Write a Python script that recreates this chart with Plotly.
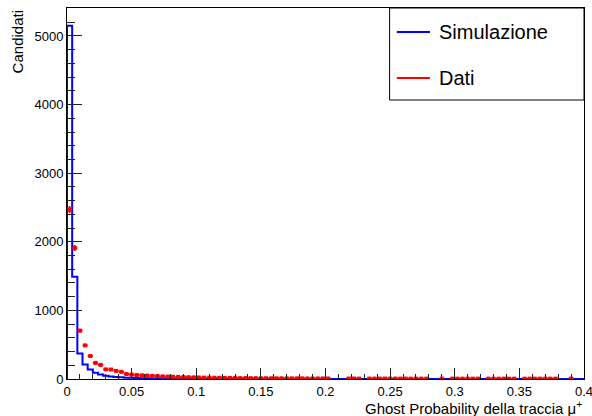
import numpy as np
import plotly.graph_objects as go

# Histogram binning: 100 bins in [0, 0.4]
x_min, x_max, n_bins = 0.0, 0.4, 100

simulazione = [
    5150, 1490, 372, 212, 140, 92, 64, 48, 38, 30,
    24, 20, 17, 14, 12, 10, 9, 8, 7, 6,
    6, 5, 5, 4, 4, 4, 3, 3, 3, 3,
    3, 2, 2, 2, 2, 2, 2, 2, 2, 2,
    2, 2, 1, 1, 1, 1, 1, 1, 1, 1,
    1, 1, 1, 1, 1, 1, 1, 1, 1, 1,
    1, 1, 1, 1, 1, 1, 1, 1, 1, 1,
    1, 1, 1, 1, 1, 1, 1, 1, 1, 1,
    1, 1, 1, 1, 1, 1, 1, 1, 1, 1,
    1, 1, 1, 1, 1, 1, 1, 1, 1, 1,
]

dati = [
    2470, 1910, 705, 490, 335, 235, 205, 140, 138, 118,
    104, 72, 64, 58, 54, 50, 46, 42, 38, 35,
    32, 30, 28, 26, 24, 22, 20, 19, 18, 17,
    16, 15, 14, 13, 13, 12, 12, 11, 11, 10,
    10, 10, 9, 9, 9, 9, 8, 8, 8, 8,
    7, 0, 0, 0, 7, 7, 6, 0, 6, 6,
    6, 6, 6, 6, 6, 6, 5, 5, 5, 5,
    0, 0, 5, 0, 5, 5, 5, 5, 5, 5,
    0, 5, 5, 5, 5, 5, 5, 0, 5, 5,
    5, 5, 5, 5, 5, 0, 0, 5, 0, 0,
]

y_ticks = [0, 1000, 2000, 3000, 4000, 5000]
x_ticks = [0, 0.05, 0.1, 0.15, 0.2, 0.25, 0.3, 0.35, 0.4]
x_tick_labels = ["0", "0.05", "0.1", "0.15", "0.2", "0.25", "0.3", "0.35", "0.4"]

edges = np.linspace(x_min, x_max, n_bins + 1)
centers = 0.5 * (edges[:-1] + edges[1:])
half_w = 0.5 * (edges[1] - edges[0])

# step outline for simulation
step_x = [edges[0]] + list(edges)
step_y = [0] + list(simulazione) + [simulazione[-1]]

dati_arr = np.array(dati, dtype=float)
mask = dati_arr > 0
dx = centers[mask]
dy = dati_arr[mask]

fig = go.Figure()
fig.add_trace(go.Scatter(
    x=step_x, y=step_y, mode="lines", line=dict(color="#0000ff", width=2, shape="hv"),
    showlegend=False, hoverinfo="skip"))
fig.add_trace(go.Scatter(
    x=dx, y=dy, mode="markers",
    marker=dict(color="#ff0000", size=4, symbol="square"),
    error_y=dict(type="data", array=np.sqrt(dy), color="#ff0000", thickness=2, width=0),
    error_x=dict(type="data", array=np.full(dx.shape, half_w), color="#ff0000", thickness=2, width=0),
    showlegend=False))

ymax = max(simulazione) * 1.05

font_family = "Liberation Sans, Arial, Helvetica, sans-serif"
fig.update_layout(
    width=592, height=416,
    margin=dict(l=67, r=8, t=8, b=37, autoexpand=False),
    paper_bgcolor="white", plot_bgcolor="white",
    font=dict(family=font_family, color="black", size=13),
    showlegend=False,
    xaxis=dict(range=[x_min, x_max], showgrid=False, zeroline=False, automargin=False,
               showline=True, mirror=True, linecolor="black", linewidth=1,
               ticks="inside", ticklen=11, tickcolor="#222", tickwidth=1,
               tickvals=x_ticks, ticktext=x_tick_labels, ticklabeloverflow="allow",
               tickfont=dict(size=13, family=font_family),
               minor=dict(ticks="inside", ticklen=5.5, dtick=0.01, tick0=0, tickcolor="#222")),
    yaxis=dict(range=[0, ymax], showgrid=False, zeroline=False, automargin=False,
               showline=True, mirror=True, linecolor="black", linewidth=1,
               ticks="inside", ticklen=15, tickcolor="#222", tickwidth=1,
               tickvals=y_ticks, ticktext=[str(v) for v in y_ticks], ticklabeloverflow="allow",
               tickfont=dict(size=13, family=font_family),
               minor=dict(ticks="inside", ticklen=7.5, dtick=200, tick0=0, tickcolor="#222")),
)

# axis titles
fig.add_annotation(text="Ghost Probability della traccia μ<sup>+</sup>", xref="paper", yref="paper",
                   x=1, y=-0.078, xanchor="right", yanchor="middle", showarrow=False,
                   font=dict(size=15, family=font_family))
fig.add_annotation(text="Candidati", xref="paper", yref="paper", textangle=-90,
                   x=-0.095, y=1.0, xanchor="center", yanchor="top", showarrow=False,
                   font=dict(size=15, family=font_family))

# legend box
fig.add_shape(type="rect", xref="paper", yref="paper", x0=0.624, x1=1.0, y0=0.752, y1=1.0,
              line=dict(color="black", width=1), fillcolor="white", layer="above")
fig.add_shape(type="line", xref="paper", yref="paper", x0=0.638, x1=0.702, y0=0.935, y1=0.935,
              line=dict(color="#0000ff", width=2), layer="above")
fig.add_shape(type="line", xref="paper", yref="paper", x0=0.638, x1=0.702, y0=0.811, y1=0.811,
              line=dict(color="#ff0000", width=2), layer="above")
fig.add_annotation(text="Simulazione", xref="paper", yref="paper", x=0.716, y=0.935,
                   xanchor="left", yanchor="middle", showarrow=False,
                   font=dict(size=20, family=font_family))
fig.add_annotation(text="Dati", xref="paper", yref="paper", x=0.716, y=0.811,
                   xanchor="left", yanchor="middle", showarrow=False,
                   font=dict(size=20, family=font_family))

fig.write_html("out.html", config={"displayModeBar": False},
               post_script="document.body.style.margin='0';")
